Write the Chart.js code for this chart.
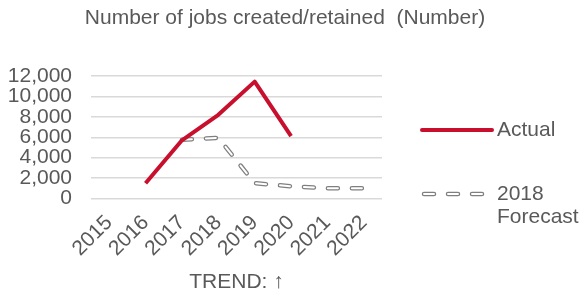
<!DOCTYPE html>
<html>
<head>
<meta charset="utf-8">
<script src="https://cdn.jsdelivr.net/npm/chart.js@4"></script>
<style>
  html, body { margin: 0; padding: 0; background: #fff; }
  #wrap { width: 584px; height: 297px; }
</style>
</head>
<body>
<div id="wrap"><canvas id="chart1" width="584" height="297"></canvas></div>
<script>
// values
var years = ['2015', '2016', '2017', '2018', '2019', '2020', '2021', '2022']
var actual = [null, 1500, 5700, 8200, 11450, 6100, null, null]
var forecast2018 = [null, null, 5750, 5950, 1500, 1200, 1000, 1000]
var yTicks = [0, 2000, 4000, 6000, 8000, 10000, 12000]

var grey = '#595959'
var red = '#C8102E'
var font = 'Liberation Sans, Arial, sans-serif'

// title + legend drawn by hand: title is centred on the whole picture,
// and "2018 Forecast" wraps onto two lines
var extras = {
  id: 'extras',
  afterDraw: function(chart) {
    var ctx = chart.ctx
    ctx.save()
    ctx.fillStyle = grey
    ctx.font = '21px ' + font
    ctx.textAlign = 'center'
    ctx.textBaseline = 'middle'
    ctx.fillText('Number of jobs created/retained  (Number)', 285, 18)

    var x0 = chart.chartArea.right + 40
    var x1 = x0 + 70
    ctx.lineCap = 'round'
    ctx.strokeStyle = red
    ctx.lineWidth = 4
    ctx.beginPath(); ctx.moveTo(x0, 130); ctx.lineTo(x1, 130); ctx.stroke()

    ctx.setLineDash([10, 14])
    ctx.strokeStyle = '#7F7F7F'
    ctx.lineWidth = 4.5
    ctx.beginPath(); ctx.moveTo(x0 + 2, 194); ctx.lineTo(x1, 194); ctx.stroke()
    ctx.strokeStyle = '#fff'
    ctx.lineWidth = 2
    ctx.beginPath(); ctx.moveTo(x0 + 2, 194); ctx.lineTo(x1, 194); ctx.stroke()
    ctx.setLineDash([])

    ctx.textAlign = 'left'
    ctx.fillText('Actual', x1 + 5, 130)
    ctx.fillText('2018', x1 + 5, 194)
    ctx.fillText('Forecast', x1 + 5, 217)
    ctx.restore()
  }
}

var dashSet = function(color, width) {
  return {
    label: '2018 Forecast',
    data: forecast2018,
    borderColor: color,
    borderWidth: width,
    borderDash: [10, 14],
    borderCapStyle: 'round',
    borderJoinStyle: 'round',
    pointRadius: 0,
    tension: 0
  }
}

const config = {
  type: 'line',
  data: {
    labels: years,
    datasets: [
      {
        label: 'Actual',
        data: actual,
        borderColor: red,
        borderWidth: 4,
        borderCapStyle: 'butt',
        borderJoinStyle: 'round',
        pointRadius: 0,
        tension: 0
      },
      dashSet('#fff', 2),
      dashSet('#7F7F7F', 4.5)
    ]
  },
  options: {
    responsive: false,
    animation: false,
    layout: { padding: { left: 8, right: 202, top: 76, bottom: 2 } },
    plugins: {
      legend: { display: false },
      tooltip: { enabled: false },
      title: { display: false }
    },
    scales: {
      x: {
        offset: true,
        grid: { display: false, drawTicks: false },
        border: { display: false },
        afterFit: function(scale) {
          scale.paddingLeft = 0
          scale.paddingRight = 0
          scale.height = 96.5
        },
        ticks: {
          color: grey,
          font: { family: font, size: 21 },
          autoSkip: false,
          minRotation: 45,
          maxRotation: 45,
          padding: 12
        },
        title: {
          display: true,
          text: 'TREND: ↑',
          color: grey,
          font: { family: font, size: 21 },
          padding: { top: 0, bottom: 0 }
        }
      },
      y: {
        min: 0,
        max: 12000,
        afterBuildTicks: function(scale) {
          scale.ticks = yTicks.map(function(v) { return { value: v } })
        },
        // chart.js counts the tick padding twice in the width
        afterFit: function(scale) { scale.width = 83 },
        grid: { color: '#D9D9D9', lineWidth: 1.5, drawTicks: false },
        border: { display: false },
        ticks: {
          color: grey,
          font: { family: font, size: 21 },
          autoSkip: false,
          padding: 19,
          callback: function(v) { return v.toLocaleString('en-US') }
        }
      }
    }
  },
  plugins: [extras]
}

const myChart = new Chart(document.getElementById('chart1'), config)
</script>
</body>
</html>
